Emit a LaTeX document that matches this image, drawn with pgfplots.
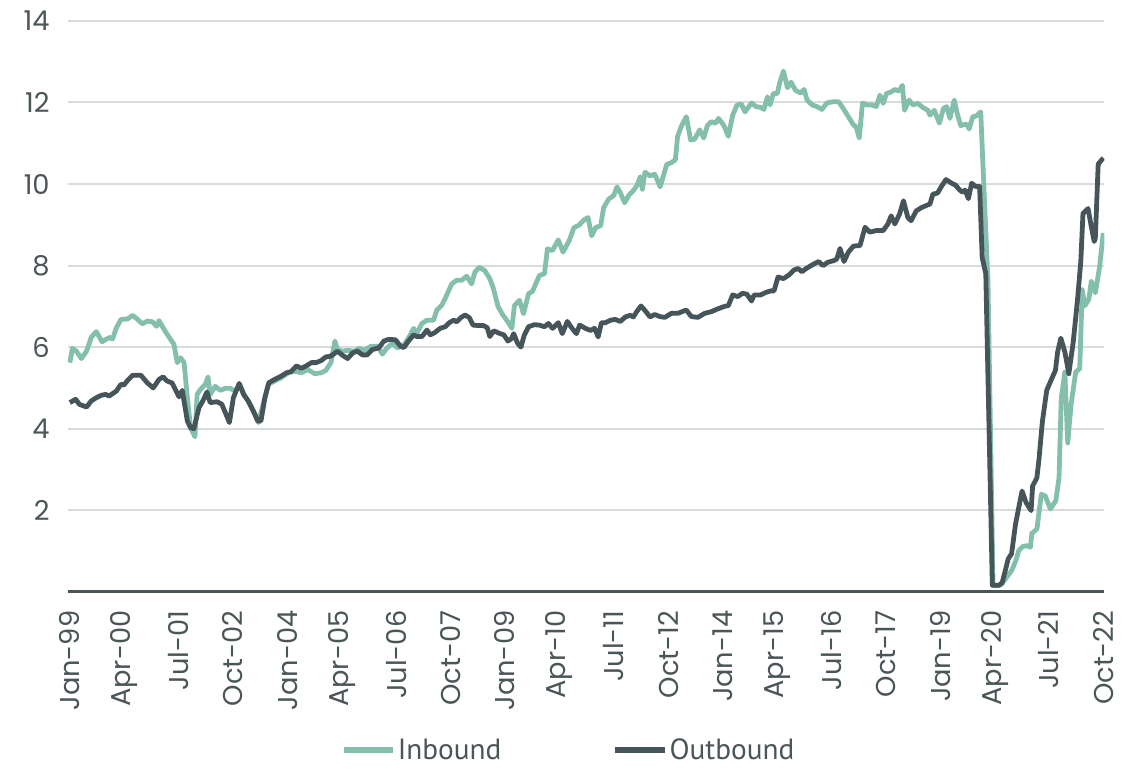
\documentclass[border=0pt]{standalone}
\usepackage{fontspec}
\usepackage{pgfplots}
\pgfplotsset{compat=1.18}
\newfontfamily\tickfont{Poppins}
\newfontfamily\legfont{PT Sans}
\definecolor{inb}{HTML}{84BEAD}
\definecolor{outb}{HTML}{455559}
\definecolor{txt}{HTML}{4A5558}
\definecolor{grd}{HTML}{D9DCDC}
\begin{document}
\begin{tikzpicture}
\begin{axis}[name=ax, scale only axis, width=779pt, height=429pt,
 xmin=-0.55, xmax=285.3, ymin=0, ymax=14,
 axis line style={draw=none},
 ytick={2,4,...,14},
 xtick={0,15,...,285},
 xticklabels={Jan-99,Apr-00,Jul-01,Oct-02,Jan-04,Apr-05,Jul-06,Oct-07,Jan-09,Apr-10,Jul-11,Oct-12,Jan-14,Apr-15,Jul-16,Oct-17,Jan-19,Apr-20,Jul-21,Oct-22},
 /pgf/number format/assume math mode=true,
 major tick length=0pt,
 ymajorgrids, grid style={grd, line width=1.5pt},
 extra y ticks={0}, extra y tick labels={},
 extra y tick style={grid style={txt, line width=2.2pt}},
 tick label style={font=\fontsize{20.5}{20.5}\selectfont\tickfont, text=txt, inner sep=0pt},
 yticklabel style={anchor=east, xshift=-13.5pt},
 xticklabel style={yshift=-14pt, rotate=90, anchor=east},
 legend style={at={(0.483,-0.277)}, anchor=center, draw=none, fill=none, inner sep=0pt,
   nodes={inner sep=1.5pt},
   legend columns=2, font=\fontsize{22}{22}\selectfont\legfont, text=txt,
   /tikz/every even column/.append style={column sep=82pt}},
 legend image code/.code={\draw[#1, line width=4.5pt] (0pt,0pt) -- (37pt,0pt);},
]
\addplot[inb, line width=3.6pt, line join=round] coordinates {
(0,5.62)(0.7,5.97)(1.8,5.9)(3.2,5.72)(4.6,5.9)(5.9,6.24)(7.3,6.38)(8.9,6.13)(9.9,6.19)(11.1,6.24)(11.8,6.2)(12.8,6.47)(14.1,6.68)(15.9,6.69)(17.3,6.78)(18.7,6.68)(20,6.57)(21.4,6.64)(22.8,6.62)(23.9,6.51)(24.6,6.65)(26,6.43)(27.4,6.24)(28.7,6.07)(29.6,5.62)(30.5,5.74)(31.5,5.62)(32.4,4.76)(33.3,4.02)(34.5,3.8)(35.1,4.84)(36,4.96)(37.4,5.09)(38.1,5.27)(38.7,4.84)(40.1,5.04)(41.5,4.94)(42.9,4.99)(44.2,4.99)(45.6,4.92)(46.9,5.07)(48.3,4.8)(49.7,4.6)(51.1,4.35)(52,4.15)(53.3,4.6)(54.7,5.09)(56.5,5.17)(58.3,5.25)(60.2,5.37)(62,5.41)(63.8,5.37)(65.6,5.45)(67.5,5.35)(69.3,5.37)(70.6,5.43)(72,5.62)(73.1,6.15)(73.8,5.94)(75.2,5.9)(76.6,5.92)(78.4,5.9)(79.8,5.97)(81.1,5.92)(83,6.02)(84.8,6.02)(86.2,5.83)(87.5,5.98)(89,6.1)(90.3,5.98)(92.2,6.06)(93.9,6.3)(94.8,6.46)(95.7,6.34)(97.1,6.58)(98.5,6.66)(100.3,6.66)(101.2,6.91)(102.6,7.03)(103.9,7.27)(105.3,7.55)(106.7,7.64)(108.1,7.64)(109.4,7.74)(110.8,7.55)(111.7,7.84)(112.9,7.96)(114.4,7.88)(115.8,7.68)(116.7,7.47)(118.1,6.99)(119.4,6.79)(120.8,6.62)(121.9,6.46)(122.6,7.02)(124,7.15)(125.1,6.82)(126.5,7.31)(127.6,7.37)(129.5,7.76)(130.9,7.8)(131.7,8.41)(133.1,8.37)(134.7,8.63)(136,8.33)(137.7,8.61)(139,8.93)(140.4,8.99)(141.8,9.12)(142.9,9.18)(143.9,8.73)(145,8.93)(146.4,8.98)(147.2,9.42)(148.6,9.63)(150,9.72)(150.9,9.93)(151.8,9.79)(153,9.54)(154.1,9.72)(155.5,9.85)(156.4,9.97)(157.3,10.18)(157.9,9.87)(158.6,10.29)(160,10.2)(161.3,10.24)(162.8,9.93)(164.6,10.48)(166,10.53)(167,10.6)(167.6,11.17)(168.7,11.43)(170,11.65)(171.2,11.08)(172.3,11.1)(173.7,11.33)(174.8,11.13)(175.8,11.43)(176.9,11.53)(178,11.49)(178.9,11.61)(180.4,11.43)(181.6,11.17)(182.8,11.69)(184,11.94)(185.2,11.96)(186.2,11.77)(188,11.99)(189.2,11.9)(190.5,11.88)(191.4,11.83)(192.4,12.14)(193.1,11.94)(194,12.22)(195.1,12.22)(195.8,12.5)(196.8,12.77)(197.9,12.36)(198.9,12.5)(200.1,12.3)(201.5,12.23)(202.5,12.32)(203.3,12.06)(204.7,11.94)(206,11.9)(207.4,11.83)(208.8,11.99)(210.6,12.02)(212,12.02)(213.3,11.85)(214.7,11.65)(216.1,11.45)(216.8,11.41)(217.7,11.13)(218.6,11.99)(219.7,11.94)(221.1,11.94)(222.4,11.9)(223.4,12.18)(224.3,11.98)(225.2,12.22)(226.5,12.26)(227.5,12.32)(228.6,12.28)(229.6,12.42)(230.2,11.81)(231.4,12.06)(232.5,11.94)(233.8,11.98)(235.2,11.88)(236.6,11.81)(237.2,11.69)(238.4,11.81)(239.8,11.49)(240.9,11.85)(241.8,11.9)(242.7,11.61)(243.9,12.06)(244.8,11.7)(245.7,11.43)(246.2,11.45)(247.3,11.47)(248,11.35)(249,11.65)(250,11.67)(251.2,11.77)(252.3,9.45)(253.2,7.6)(254.6,0.15)(256.2,0.15)(257.1,0.2)(258.4,0.36)(259.8,0.53)(260.9,0.77)(261.7,1.01)(262.8,1.11)(264,1.13)(264.9,1.09)(265.3,1.43)(266.7,1.54)(267.9,2.39)(269,2.35)(270.4,2.03)(271.9,2.23)(272.8,2.8)(273.4,4.74)(274.4,5.39)(275.2,3.65)(276.1,4.58)(277.4,5.39)(278.5,5.47)(279.2,7.41)(279.9,7.01)(281,7.17)(281.7,7.62)(282.8,7.33)(284,7.98)(285,8.8)
};
\addlegendentry{Inbound}
\addplot[outb, line width=3.6pt, line join=round] coordinates {
(0,4.64)(1.6,4.72)(2.6,4.6)(4.6,4.53)(5.9,4.68)(7.3,4.76)(8.7,4.82)(9.9,4.84)(10.8,4.8)(12.8,4.92)(14.1,5.09)(14.9,5.07)(15.9,5.18)(17.3,5.31)(19.6,5.31)(21.4,5.12)(23,5.0)(24.6,5.21)(25.7,5.27)(26.8,5.17)(28.2,5.12)(30.1,4.78)(31,4.94)(32.4,4.19)(33.3,4.02)(34.2,4.0)(35.6,4.51)(36.9,4.72)(37.8,4.9)(38.7,4.64)(40.6,4.66)(41.9,4.6)(42.9,4.39)(44,4.15)(45.1,4.76)(46.7,5.11)(47.9,4.84)(49.2,4.68)(50.6,4.43)(51.8,4.19)(52.7,4.19)(53.8,4.76)(54.9,5.13)(56.5,5.21)(58.3,5.29)(59.7,5.37)(61,5.4)(62.5,5.54)(63.8,5.48)(65.2,5.54)(66.6,5.62)(67.9,5.62)(69.3,5.67)(70.6,5.76)(72,5.78)(73.8,5.9)(75.2,5.8)(76.6,5.72)(78,5.86)(79.3,5.9)(80.7,5.81)(82,5.81)(83.4,5.94)(85.2,5.98)(86.6,6.15)(87.9,6.19)(89.8,6.18)(91.2,6.02)(92.1,5.99)(93.4,6.15)(94.8,6.3)(95.7,6.26)(97.1,6.26)(98.5,6.42)(99.4,6.3)(100.7,6.36)(102.1,6.46)(103.5,6.5)(104.8,6.61)(105.9,6.66)(106.7,6.62)(107.8,6.72)(109,6.79)(110.2,6.72)(111.2,6.54)(112.6,6.53)(114,6.53)(115.1,6.48)(115.8,6.26)(116.9,6.4)(118.4,6.34)(119.7,6.3)(120.8,6.15)(121.7,6.2)(122.4,6.33)(123.5,6.09)(124.4,6.0)(125.3,6.29)(126.5,6.5)(128.1,6.55)(129.5,6.54)(130.9,6.5)(132,6.58)(133.1,6.46)(134.7,6.6)(135.8,6.33)(137.2,6.63)(138.5,6.46)(139.7,6.33)(140.6,6.54)(142.2,6.46)(143.6,6.41)(144.7,6.46)(145.7,6.25)(146.6,6.6)(147.7,6.6)(149.1,6.66)(150.4,6.68)(151.8,6.63)(153.2,6.74)(154.5,6.78)(155.4,6.74)(156.4,6.88)(157.5,7.01)(158.6,6.9)(160,6.74)(161.3,6.8)(162.7,6.75)(164.1,6.73)(165.9,6.83)(167.7,6.83)(170,6.91)(171.4,6.75)(173.2,6.73)(175.1,6.83)(176.9,6.87)(178.7,6.94)(180.6,7.0)(181.6,7.02)(182.8,7.28)(184.2,7.24)(185.5,7.32)(186.7,7.3)(188,7.13)(188.7,7.28)(190.5,7.28)(191.9,7.34)(193.3,7.38)(194.2,7.38)(195.3,7.72)(196.8,7.68)(198.3,7.77)(199.7,7.89)(200.8,7.93)(201.9,7.85)(203.1,7.93)(204.4,8.0)(205.2,8.04)(206.5,8.1)(207.7,8.0)(209,8.08)(210.6,8.12)(211.5,8.16)(212.4,8.42)(213.5,8.1)(214.7,8.33)(216.1,8.48)(217.9,8.49)(219.3,8.94)(220.6,8.82)(222.4,8.86)(224.3,8.86)(225.6,9.02)(226.5,9.22)(227.5,9.02)(228.8,9.26)(229.9,9.59)(231.1,9.18)(232,9.1)(233.4,9.34)(234.8,9.42)(236.1,9.47)(237.2,9.51)(238,9.75)(239.3,9.78)(240.5,9.96)(241.6,10.11)(243,10.03)(244.3,9.97)(245.2,9.87)(246.2,9.8)(246.9,9.85)(247.8,9.64)(248.7,10.02)(249.8,9.94)(250.9,9.94)(251.6,8.2)(252.6,7.8)(254.4,0.16)(256.2,0.16)(257.1,0.22)(258,0.53)(258.8,0.81)(259.7,0.93)(260.8,1.66)(261.7,2.07)(262.6,2.47)(263.7,2.19)(265.1,1.99)(265.5,2.59)(266.7,2.8)(267.3,3.28)(268.2,4.17)(269.4,4.94)(270.8,5.23)(271.8,5.43)(272.4,5.88)(273.3,6.22)(274.4,5.88)(275.5,5.35)(276.7,6.12)(277.9,7.17)(278.8,8.1)(279.4,9.28)(280.8,9.4)(281.7,8.95)(282.5,8.59)(282.8,8.67)(283.6,10.49)(285,10.64)
};
\addlegendentry{Outbound}
\end{axis}
\pgfresetboundingbox
\path ([xshift=-51pt, yshift=-133pt]ax.south west) rectangle ([xshift=14pt, yshift=15.75pt]ax.north east);
\end{tikzpicture}
\end{document}
